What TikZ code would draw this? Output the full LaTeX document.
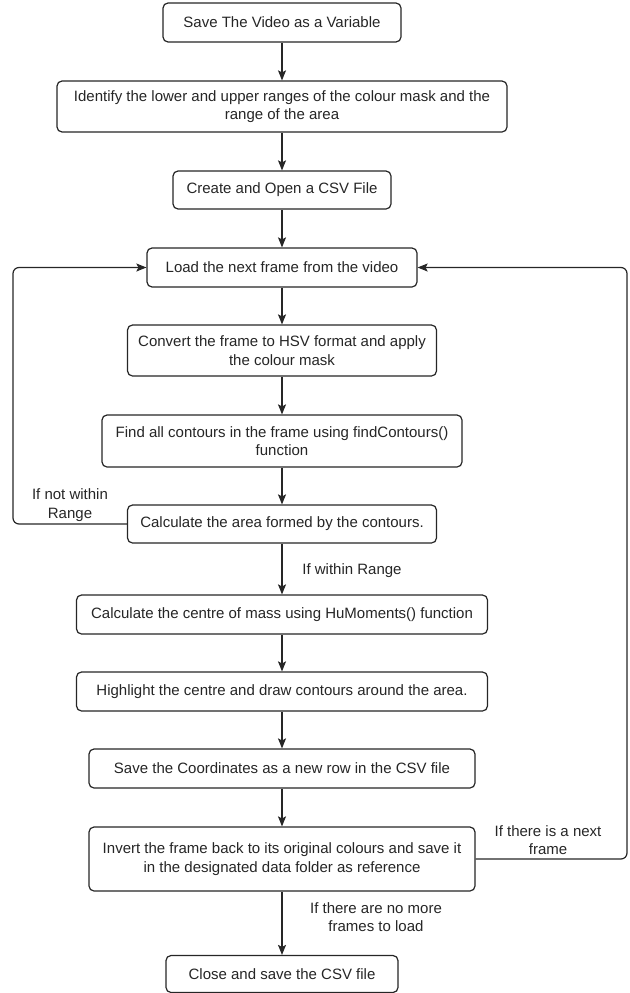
\documentclass[tikz,border=0pt]{standalone}
\usepackage{fontspec}
\setmainfont{Liberation Sans}
\usetikzlibrary{arrows.meta}

\tikzstyle{task}=[shape=rectangle,rounded corners=5pt,draw=black!85,line width=1.2pt,fill=white,
    inner sep=0pt,align=center,text=black!85,font=\fontsize{15}{18.5}\selectfont]
\tikzstyle{cond}=[inner sep=0pt,align=center,text=black!85,font=\fontsize{15}{18.5}\selectfont]

\begin{document}
\begin{tikzpicture}[x=1pt,y=-1pt,>={Stealth[length=10pt,width=8pt,inset=2pt]},line width=1.2pt,draw=black!85]
        \useasboundingbox (0,0) rectangle (629,993);
        % steps
        \node[task,minimum width=238pt,minimum height=39pt] (s0) at (282,22.5) {Save The Video as a Variable};
        \node[task,minimum width=450pt,minimum height=51pt] (s1) at (282,106.5) {Identify the lower and upper ranges of the colour mask and the\\range of the area}
            edge [<-] (s0);
        \node[task,minimum width=218pt,minimum height=38pt] (s2) at (282,190) {Create and Open a CSV File}
            edge [<-] (s1);
        \node[task,minimum width=270pt,minimum height=39pt] (s3) at (282,267.5) {Load the next frame from the video}
            edge [<-] (s2);
        \node[task,minimum width=309pt,minimum height=51pt] (s4) at (282,350.5) {Convert the frame to HSV format and apply\\the colour mask}
            edge [<-] (s3);
        \node[task,minimum width=360pt,minimum height=52pt] (s5) at (282,441) {Find all contours in the frame using findContours()\\function}
            edge [<-] (s4);
        \node[task,minimum width=309pt,minimum height=38pt] (s6) at (282,524) {Calculate the area formed by the contours.}
            edge [<-] (s5);
        \node[task,minimum width=411pt,minimum height=39pt] (s7) at (282,614.5) {Calculate the centre of mass using HuMoments() function}
            edge [<-] (s6);
        \node[task,minimum width=411pt,minimum height=39pt] (s8) at (282,691.5) {Highlight the centre and draw contours around the area.}
            edge [<-] (s7);
        \node[task,minimum width=386pt,minimum height=39pt] (s9) at (282,768.5) {Save the Coordinates as a new row in the CSV file}
            edge [<-] (s8);
        \node[task,minimum width=386pt,minimum height=64pt] (s10) at (282,859) {Invert the frame back to its original colours and save it\\in the designated data folder as reference}
            edge [<-] (s9);
        \node[task,minimum width=232pt,minimum height=37pt] (s11) at (282,974) {Close and save the CSV file}
            edge [<-] (s10);

        % loops back to the frame
        \coordinate (lft) at (13,267.5);
        \coordinate (rgt) at (627,267.5);
        \draw [->,rounded corners=6pt] (s6.west) -| (lft) -- (s3.west);
        \draw [->,rounded corners=6pt] (s10.east) -| (rgt) -- (s3.east);

        % conditions
        \node[cond] (c0) at (70,505) {If not within\\Range};
        \node[cond] (c1) at (352,571) {If within Range};
        \node[cond] (c2) at (548,840) {If there is a next\\frame};
        \node[cond] (c3) at (376,917) {If there are no more\\frames to load};
    \end{tikzpicture}
\end{document}
